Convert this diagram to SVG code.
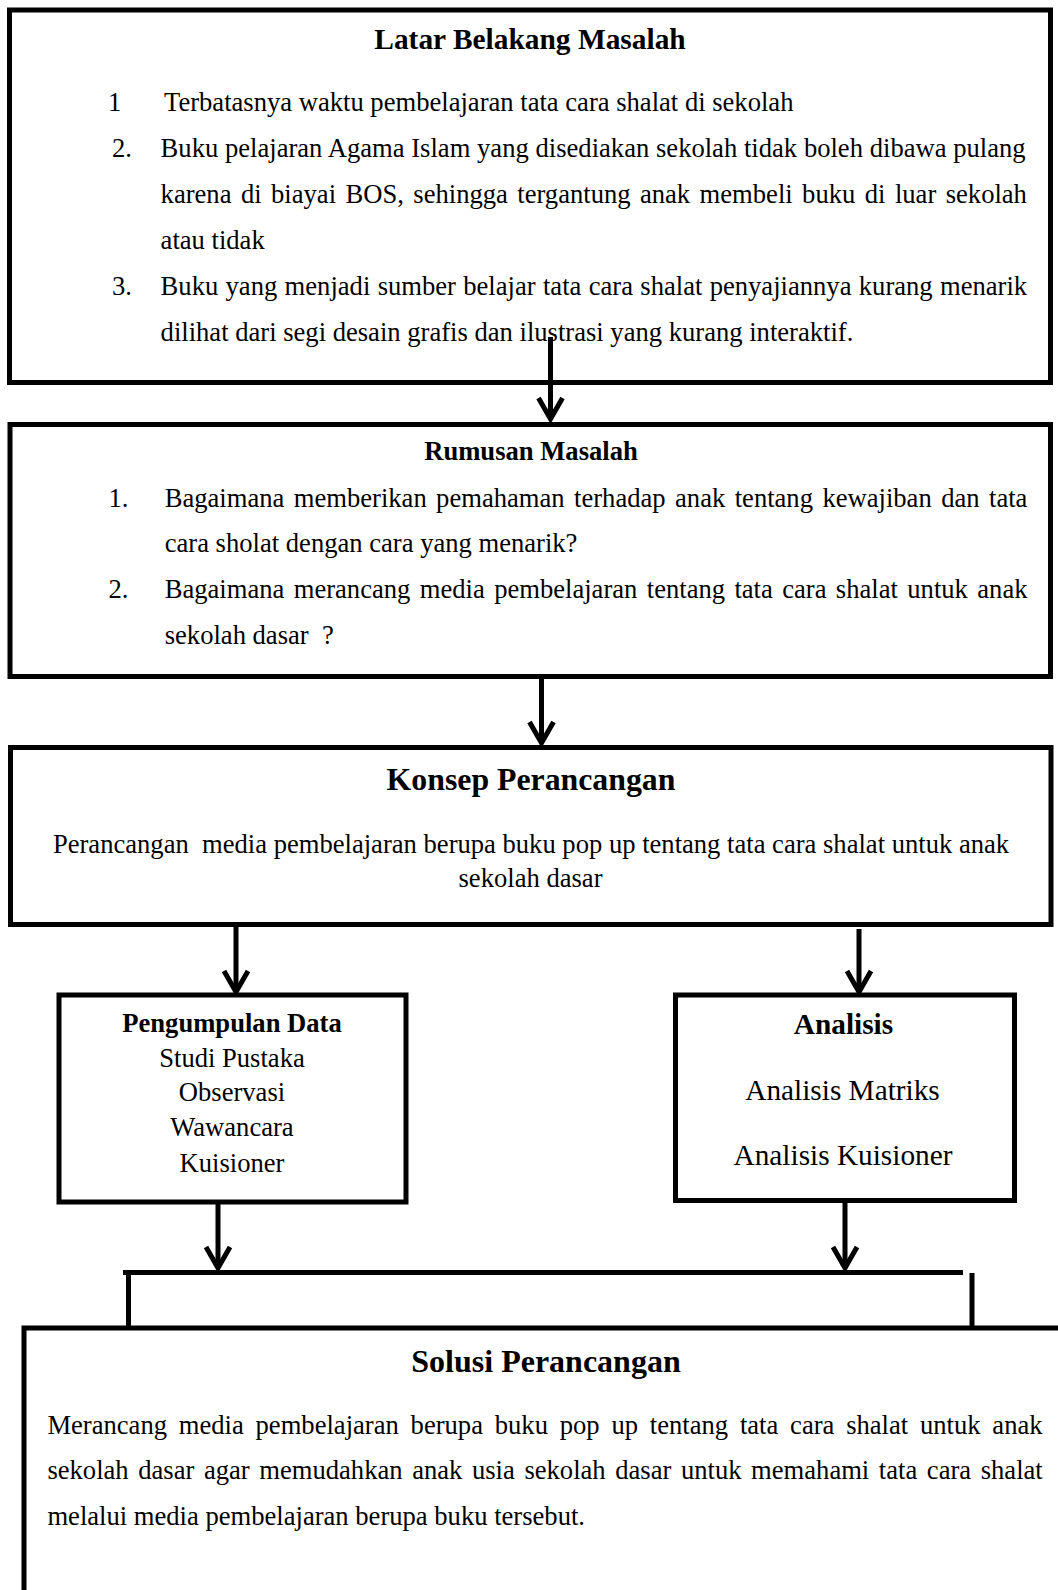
<svg xmlns="http://www.w3.org/2000/svg" width="1058" height="1590" viewBox="0 0 1058 1590">
<style>
.box{fill:none;stroke:#000;stroke-width:5}
.ln{fill:none;stroke:#000;stroke-width:5}
.t{font-family:"Liberation Serif","Times New Roman",serif;font-size:26.6px;fill:#000;white-space:pre}
.h{font-weight:bold}
.c{text-anchor:middle}
</style>
<defs>
<marker id="ah" markerUnits="userSpaceOnUse" viewBox="-26 -16 30 32" refX="0" refY="0" markerWidth="30" markerHeight="32" orient="auto" overflow="visible">
<path d="M-21,-12 L0,0 L-21,12" fill="none" stroke="#000" stroke-width="5" stroke-linejoin="miter"/>
</marker>
</defs>
<rect width="1058" height="1590" fill="#fff"/>

<g id="latar-belakang">
<rect class="box" x="9.5" y="10" width="1041" height="372.5"/>
<text class="t h c" x="530" y="49" style="font-size:29.4px">Latar Belakang Masalah</text>
<text class="t" x="108" y="111">1</text>
<text class="t" x="164" y="111">Terbatasnya waktu pembelajaran tata cara shalat di sekolah</text>
<text class="t" x="112" y="157">2.</text>
<text class="t" x="160.6" y="157" word-spacing="0.1">Buku pelajaran Agama Islam yang disediakan sekolah tidak boleh dibawa pulang</text>
<text class="t" x="160.6" y="203" word-spacing="2.8">karena di biayai BOS, sehingga tergantung anak membeli buku di luar sekolah</text>
<text class="t" x="160.6" y="249">atau tidak</text>
<text class="t" x="112" y="295">3.</text>
<text class="t" x="160.6" y="295" word-spacing="0.7">Buku yang menjadi sumber belajar tata cara shalat penyajiannya kurang menarik</text>
<text class="t" x="160.6" y="341">dilihat dari segi desain grafis dan ilustrasi yang kurang interaktif.</text>
</g>

<g id="rumusan-masalah">
<rect class="box" x="10" y="424.5" width="1040.5" height="252"/>
<text class="t h c" x="531" y="460">Rumusan Masalah</text>
<text class="t" x="108.4" y="507">1.</text>
<text class="t" x="164.7" y="507" word-spacing="2.8">Bagaimana memberikan pemahaman terhadap anak tentang kewajiban dan tata</text>
<text class="t" x="164.7" y="552">cara sholat dengan cara yang menarik?</text>
<text class="t" x="108.4" y="597.5">2.</text>
<text class="t" x="164.7" y="597.5" word-spacing="2.75">Bagaimana merancang media pembelajaran tentang tata cara shalat untuk anak</text>
<text class="t" x="164.7" y="644">sekolah dasar  ?</text>
</g>

<g id="konsep-perancangan">
<rect class="box" x="10.5" y="747.5" width="1040.5" height="177"/>
<text class="t h c" x="531" y="790" style="font-size:31.8px">Konsep Perancangan</text>
<text class="t c" x="531" y="853">Perancangan  media pembelajaran berupa buku pop up tentang tata cara shalat untuk anak</text>
<text class="t c" x="530.5" y="887">sekolah dasar</text>
</g>

<g id="pengumpulan-data">
<rect class="box" x="59" y="995" width="347" height="207"/>
<text class="t h c" x="232" y="1031.5">Pengumpulan Data</text>
<text class="t c" x="232" y="1066.5">Studi Pustaka</text>
<text class="t c" x="232" y="1101">Observasi</text>
<text class="t c" x="232" y="1136">Wawancara</text>
<text class="t c" x="232" y="1171.5">Kuisioner</text>
</g>

<g id="analisis">
<rect class="box" x="675.5" y="995" width="339" height="205.5"/>
<text class="t h c" x="843.5" y="1034" style="font-size:29.3px">Analisis</text>
<text class="t c" x="842.5" y="1099.5" style="font-size:29.3px">Analisis Matriks</text>
<text class="t c" x="843" y="1165" style="font-size:29.3px">Analisis Kuisioner</text>
</g>

<g id="solusi-perancangan">
<path class="box" d="M24,1600 V1328 H1070"/>
<text class="t h c" x="546" y="1372" style="font-size:32px">Solusi Perancangan</text>
<text class="t" x="47.4" y="1433.5" word-spacing="5.15">Merancang media pembelajaran berupa buku pop up tentang tata cara shalat untuk anak</text>
<text class="t" x="47.4" y="1478.5" word-spacing="2.95">sekolah dasar agar memudahkan anak usia sekolah dasar untuk memahami tata cara shalat</text>
<text class="t" x="47.4" y="1525">melalui media pembelajaran berupa buku tersebut.</text>
</g>

<g id="connectors">
<line class="ln" x1="550.5" y1="337" x2="550.5" y2="419" marker-end="url(#ah)"/>
<line class="ln" x1="541.5" y1="679" x2="541.5" y2="743" marker-end="url(#ah)"/>
<line class="ln" x1="236" y1="927" x2="236" y2="992" marker-end="url(#ah)"/>
<line class="ln" x1="859" y1="929" x2="859" y2="992" marker-end="url(#ah)"/>
<line class="ln" x1="218" y1="1204" x2="218" y2="1268" marker-end="url(#ah)"/>
<line class="ln" x1="845" y1="1203" x2="845" y2="1268" marker-end="url(#ah)"/>
<line class="ln" x1="123" y1="1272.5" x2="963" y2="1272.5"/>
<line class="ln" x1="128.5" y1="1272.5" x2="128.5" y2="1328"/>
<line class="ln" x1="972" y1="1273" x2="972" y2="1328"/>
</g>
</svg>
